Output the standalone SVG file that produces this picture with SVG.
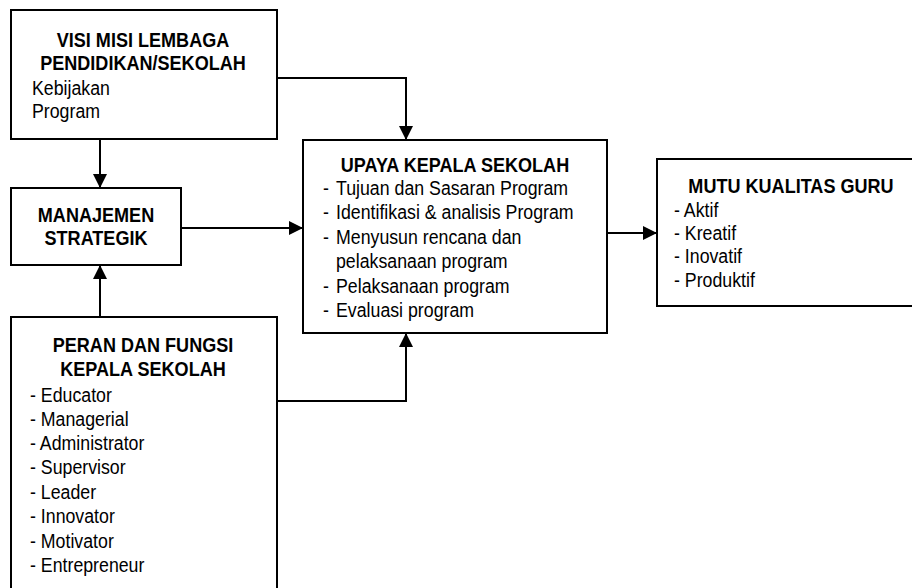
<svg xmlns="http://www.w3.org/2000/svg" width="912" height="588" viewBox="0 0 912 588">
<style>
.box{fill:#fff;stroke:#000;stroke-width:2}
.t{font-family:"Liberation Sans",Arial,sans-serif;font-size:21px;fill:#000}
.b{font-weight:bold;text-anchor:middle}
.c{fill:none;stroke:#000;stroke-width:2}
</style>
<defs>
<marker id="ah" viewBox="0 0 14 14" refX="14" refY="7" markerWidth="14" markerHeight="14" orient="auto" markerUnits="userSpaceOnUse">
<path d="M0,0 L14,7 L0,14 z" fill="#000"/>
</marker>
</defs>
<g id="connectors">
<path class="c" d="M277,78 H406 V140" marker-end="url(#ah)"/>
<path class="c" d="M100,139 V188" marker-end="url(#ah)"/>
<path class="c" d="M100,317 V265" marker-end="url(#ah)"/>
<path class="c" d="M181,228 H303" marker-end="url(#ah)"/>
<path class="c" d="M277,401 H406 V333" marker-end="url(#ah)"/>
<path class="c" d="M607,233 H657" marker-end="url(#ah)"/>
</g>
<g id="visi">
<rect class="box" x="11" y="10" width="266" height="129"/>
<text class="t b" transform="matrix(0.86 0 0 1 143 47)">VISI MISI LEMBAGA</text>
<text class="t b" transform="matrix(0.86 0 0 1 143 70)">PENDIDIKAN/SEKOLAH</text>
<text class="t" transform="matrix(0.845 0 0 1 32 95)">Kebijakan</text>
<text class="t" transform="matrix(0.845 0 0 1 32 118)">Program</text>
</g>
<g id="manajemen">
<rect class="box" x="11" y="188" width="170" height="77"/>
<text class="t b" transform="matrix(0.86 0 0 1 96 222)">MANAJEMEN</text>
<text class="t b" transform="matrix(0.86 0 0 1 96 245)">STRATEGIK</text>
</g>
<g id="peran">
<rect class="box" x="11" y="317" width="266" height="290"/>
<text class="t b" transform="matrix(0.86 0 0 1 143 352)">PERAN DAN FUNGSI</text>
<text class="t b" transform="matrix(0.86 0 0 1 143 376)">KEPALA SEKOLAH</text>
<text class="t" transform="matrix(0.845 0 0 1 30 402)">- Educator</text>
<text class="t" transform="matrix(0.845 0 0 1 30 426)">- Managerial</text>
<text class="t" transform="matrix(0.845 0 0 1 30 450)">- Administrator</text>
<text class="t" transform="matrix(0.845 0 0 1 30 474)">- Supervisor</text>
<text class="t" transform="matrix(0.845 0 0 1 30 499)">- Leader</text>
<text class="t" transform="matrix(0.845 0 0 1 30 523)">- Innovator</text>
<text class="t" transform="matrix(0.845 0 0 1 30 548)">- Motivator</text>
<text class="t" transform="matrix(0.845 0 0 1 30 572)">- Entrepreneur</text>
</g>
<g id="upaya">
<rect class="box" x="303" y="140" width="304" height="193"/>
<text class="t b" transform="matrix(0.86 0 0 1 455 172)">UPAYA KEPALA SEKOLAH</text>
<text class="t" transform="matrix(0.845 0 0 1 323 195)">-</text><text class="t" transform="matrix(0.845 0 0 1 336 195)">Tujuan dan Sasaran Program</text>
<text class="t" transform="matrix(0.845 0 0 1 323 219)">-</text><text class="t" transform="matrix(0.845 0 0 1 336 219)">Identifikasi &amp; analisis Program</text>
<text class="t" transform="matrix(0.845 0 0 1 323 244)">-</text><text class="t" transform="matrix(0.845 0 0 1 336 244)">Menyusun rencana dan</text>
<text class="t" transform="matrix(0.845 0 0 1 336 268)">pelaksanaan program</text>
<text class="t" transform="matrix(0.845 0 0 1 323 293)">-</text><text class="t" transform="matrix(0.845 0 0 1 336 293)">Pelaksanaan program</text>
<text class="t" transform="matrix(0.845 0 0 1 323 317)">-</text><text class="t" transform="matrix(0.845 0 0 1 336 317)">Evaluasi program</text>
</g>
<g id="mutu">
<rect class="box" x="657" y="159" width="270" height="147"/>
<text class="t b" transform="matrix(0.86 0 0 1 791 193)">MUTU KUALITAS GURU</text>
<text class="t" transform="matrix(0.845 0 0 1 674 217)">- Aktif</text>
<text class="t" transform="matrix(0.845 0 0 1 674 240)">- Kreatif</text>
<text class="t" transform="matrix(0.845 0 0 1 674 263)">- Inovatif</text>
<text class="t" transform="matrix(0.845 0 0 1 674 287)">- Produktif</text>
</g>
</svg>
